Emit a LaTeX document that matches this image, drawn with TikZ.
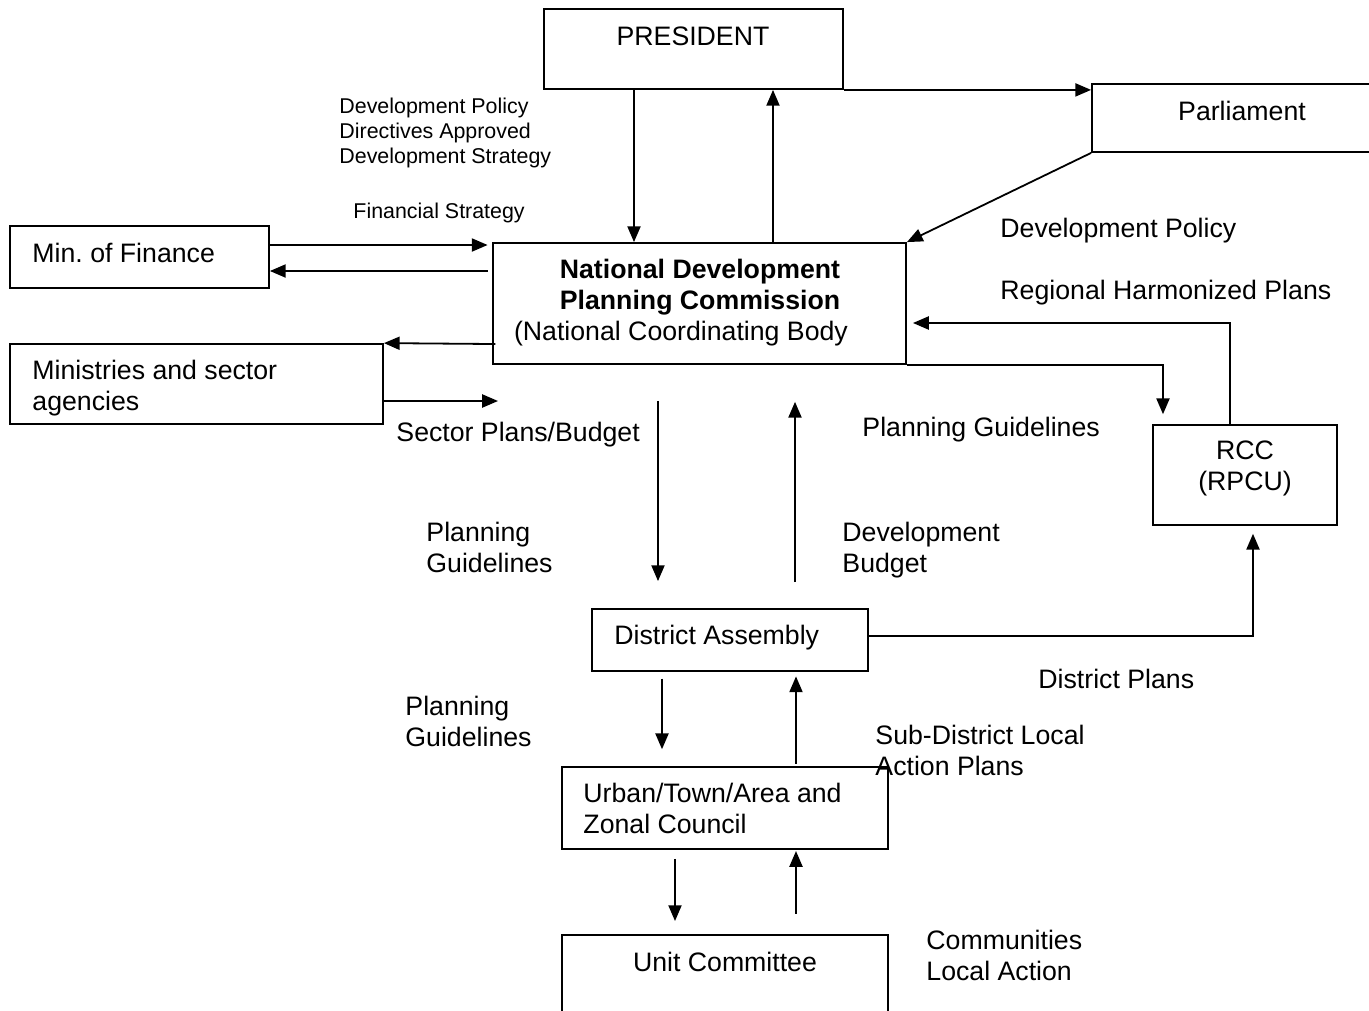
\documentclass[tikz,border=0pt]{standalone}
\usepackage{fontspec}
\setmainfont{Liberation Sans}
\frenchspacing
\usetikzlibrary{arrows.meta,fit,calc}
\begin{document}
\begin{tikzpicture}[x=0.444pt,y=-0.444pt,
  box/.style={draw, line width=0.8pt, inner sep=0pt},
  lbl/.style={inner sep=0pt, font=\fontsize{11.85}{13.8}\selectfont, align=left},
  sml/.style={inner sep=0pt, font=\fontsize{9.5}{11.1}\selectfont, align=left},
  arr/.style={line width=0.8pt, -{Triangle[length=7pt,width=5.8pt]}},
]
\useasboundingbox (0,0) rectangle (1369,1011);
\fill[white] (0,0) rectangle (1369,1011);

% boxes
\node[box, fit={(544,9) (843,89)}] (pres) {};
\node[box, fit={(1092,84) (1380,152)}] (parl) {};
\node[box, fit={(493,243) (906,364)}] (ndpc) {};
\node[box, fit={(10,226) (269,288)}] (fin) {};
\node[box, fit={(10,344) (383,424)}] (mins) {};
\node[box, fit={(1153,425) (1337,525)}] (rcc) {};
\node[box, fit={(592,609) (868,671)}] (da) {};
\node[box, fit={(562,767) (888,849)}] (urban) {};
\node[box, fit={(562,935) (888,1025)}] (unit) {};

% box texts
\node[lbl, anchor=base] (tpres) at (693,45) {PRESIDENT};
\node[lbl, anchor=base] (tparl) at (1242,120) {Parliament};
\node[lbl, anchor=base west] (tfin) at (32,262) {Min. of Finance};
\node[lbl, anchor=north, align=center] (tndpc) at (700,258.5)
  {\textbf{National Development}\\\textbf{Planning Commission}\\\hspace*{-16.9pt}(National Coordinating Body};
\node[lbl, anchor=north west] (tmins) at (32,359.5) {Ministries and sector\\agencies};
\node[lbl, anchor=north, align=center] (trcc) at (1245,440.5) {RCC\\(RPCU)};
\node[lbl, anchor=base west] (tda) at (614,644) {District Assembly};
\node[lbl, anchor=north west] (turban) at (583,782.5) {Urban/Town/Area and\\Zonal Council};
\node[lbl, anchor=base] (tunit) at (725,971) {Unit Committee};

% labels
\node[sml, anchor=north west] (l1) at (339,98) {Development Policy\\Directives Approved\\Development Strategy};
\node[sml, anchor=base west] (l2) at (353,218) {Financial Strategy};
\node[lbl, anchor=base west] (l3) at (1000,237) {Development Policy};
\node[lbl, anchor=base west] (l4) at (1000,299) {Regional Harmonized Plans};
\node[lbl, anchor=base west] (l5) at (396,441) {Sector Plans/Budget};
\node[lbl, anchor=base west] (l6) at (862,436) {Planning Guidelines};
\node[lbl, anchor=north west] (l7) at (426,521.5) {Planning\\Guidelines};
\node[lbl, anchor=north west] (l8) at (842,521.5) {Development\\Budget};
\node[lbl, anchor=base west] (l9) at (1038,688) {District Plans};
\node[lbl, anchor=north west] (l10) at (405,695.5) {Planning\\Guidelines};
\node[lbl, anchor=north west] (l11) at (875,724.5) {Sub-District Local\\Action Plans};
\node[lbl, anchor=north west] (l12) at (926,929.5) {Communities\\Local Action};

% connectors
\draw[arr] (pres.south east) -- (pres.south east -| parl.west);
\draw[arr] (parl.south west) -- (ndpc.north east);
\draw[arr] (pres.south -| 634,0) -- (ndpc.north -| 634,0);
\draw[arr] (ndpc.north -| 773,0) -- (pres.south -| 773,0);
\draw[arr, shorten >=2pt] (fin.east |- 0,245) -- (ndpc.west |- 0,245);
\draw[arr, shorten <=2pt] (ndpc.west |- 0,271) -- (fin.east |- 0,271);
\draw[arr, shorten <=-1.5pt] (ndpc.west |- 0,344) -- (mins.north east);
\coordinate (minsout) at (498,401);
\draw[arr] (mins.east |- minsout) -- (minsout);
\draw[arr, shorten >=4.4pt] (ndpc.south east) -| (rcc.north -| 1163,0);
\draw[arr, shorten >=2.7pt] (rcc.north -| 1230,0) |- (ndpc.east |- 0,323);
\draw[arr, shorten <=16pt, shorten >=12pt] (ndpc.south -| 658,0) -- (da.north -| 658,0);
\draw[arr, shorten <=11.5pt, shorten >=16.4pt] (da.north -| 795,0) -- (ndpc.south -| 795,0);
\draw[arr, shorten >=3.5pt] (da.east |- 0,636) -| (rcc.south -| 1253,0);
\draw[arr, shorten <=3pt, shorten >=7.5pt] (da.south -| 662,0) -- (urban.north -| 662,0);
\draw[arr, shorten <=1pt, shorten >=2pt] (urban.north -| 796,0) -- (da.south -| 796,0);
\draw[arr, shorten <=4pt, shorten >=5.8pt] (urban.south -| 675,0) -- (unit.north -| 675,0);
\draw[arr, shorten <=9pt, shorten >=0.5pt] (unit.north -| 796,0) -- (urban.south -| 796,0);
\end{tikzpicture}
\end{document}
